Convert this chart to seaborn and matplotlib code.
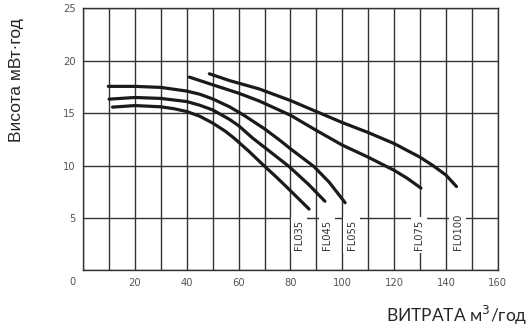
import matplotlib
matplotlib.use("Agg")
import matplotlib.pyplot as plt
import seaborn as sns
import pandas as pd

# pump curves (flow m3/h, head m)
fl035_q = [11.3, 20, 30, 35, 40, 45, 50, 55, 58.3, 64, 69.3, 75, 80, 87.2]
fl035_h = [15.57, 15.72, 15.6, 15.42, 15.15, 14.7, 14.05, 13.25, 12.6, 11.35, 10.1, 8.8, 7.6, 5.85]

fl045_q = [10, 20, 30, 40, 45, 50, 56.5, 60, 65.5, 72, 79.5, 87, 93.3]
fl045_h = [16.33, 16.49, 16.4, 16.1, 15.75, 15.3, 14.4, 13.8, 12.6, 11.35, 9.9, 8.2, 6.6]

fl055_q = [9.7, 20, 30, 40, 45, 50, 56.5, 62, 70, 75.7, 80, 89.1, 95, 101.1]
fl055_h = [17.55, 17.55, 17.45, 17.1, 16.8, 16.35, 15.6, 14.8, 13.5, 12.45, 11.6, 9.9, 8.4, 6.46]

fl075_q = [41, 50, 60, 68, 80, 90, 100, 110, 120, 125, 130.4]
fl075_h = [18.43, 17.7, 16.9, 16.15, 14.8, 13.35, 11.95, 10.8, 9.55, 8.8, 7.85]

fl100_q = [48.7, 56.5, 68, 80, 90, 100, 110, 120, 130, 135, 140, 144.1]
fl100_h = [18.75, 18.1, 17.3, 16.2, 15.15, 14.1, 13.15, 12.1, 10.8, 10.0, 9.1, 8.0]

models = ["FL035", "FL045", "FL055", "FL075", "FL0100"]
label_q = [83.3, 94.1, 103.7, 129.6, 144.6]
label_h = [1.94, 1.94, 1.94, 1.94, 1.94]

x_ticks = list(range(0, 161, 10))
x_ticklabels = ["" if (t == 0 or t % 20) else str(t) for t in x_ticks]
y_ticks = [0, 5, 10, 15, 20, 25]
y_ticklabels = ["", "5", "10", "15", "20", "25"]

curves = [(fl035_q, fl035_h), (fl045_q, fl045_h), (fl055_q, fl055_h),
          (fl075_q, fl075_h), (fl100_q, fl100_h)]
frames = []
for name, (q, h) in zip(models, curves):
    frames.append(pd.DataFrame({"q": q, "h": h, "model": name}))
df = pd.concat(frames, ignore_index=True)

sns.set_style("white")

fig = plt.figure(figsize=(5.3, 3.29), dpi=100)
ax = fig.add_axes([0.157, 0.178, 0.782, 0.797])

sns.lineplot(data=df, x="q", y="h", hue="model", palette=["#1a1a1a"] * 5,
             estimator=None, sort=False, linewidth=2.3, legend=False, ax=ax,
             zorder=3)

ax.set_xlim(0, 160)
ax.set_ylim(0, 25)
ax.set_xticks(x_ticks)
ax.set_xticklabels(x_ticklabels)
ax.set_yticks(y_ticks)
ax.set_yticklabels(y_ticklabels)
ax.tick_params(length=0, labelsize=8, labelcolor="#555555", pad=5.5)
for lab in ax.get_xticklabels() + ax.get_yticklabels():
    lab.set_family("DejaVu Sans")
    lab.set_stretch("condensed")
ax.grid(True, color="#333333", linewidth=1.0)
ax.set_axisbelow(True)
for s in ax.spines.values():
    s.set_color("#333333")
    s.set_linewidth(1.0)
ax.set_xlabel("")
ax.set_ylabel("")

ax.text(-0.025, -0.045, "0", transform=ax.transAxes, ha="center", va="center",
        fontsize=8, color="#555555", family="DejaVu Sans", stretch="condensed")

for name, q, h in zip(models, label_q, label_h):
    ax.text(q, h, name, rotation=90, ha="center", va="bottom", fontsize=8,
            color="#333333", family="DejaVu Sans", stretch="condensed",
            zorder=4, bbox=dict(boxstyle="square,pad=0.3", fc="white", ec="none"))

fig.text(17 / 530, 1 - 80 / 329, "Висота мВт·год", rotation=90, ha="center",
         va="center", fontsize=12.5, family=["Liberation Sans", "DejaVu Sans"])
fig.text(527 / 530, 1 - 315 / 329, "ВИТРАТА м$^3$/год", ha="right",
         va="center", fontsize=12.5, family=["Lato", "DejaVu Sans"])

fig.savefig("out.png", dpi=100)
